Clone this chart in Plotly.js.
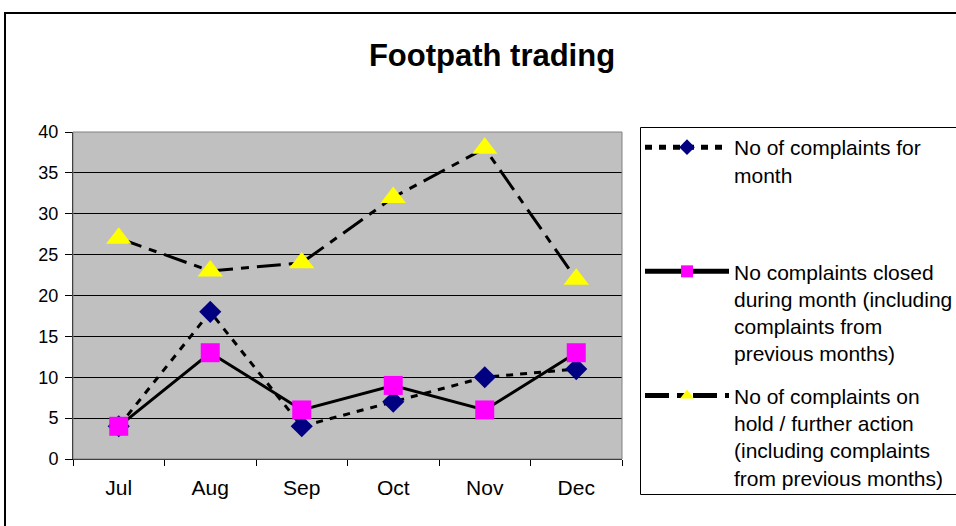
<!DOCTYPE html>
<html>
<head>
<meta charset="utf-8">
<script src="https://cdn.plot.ly/plotly-3.0.1.min.js"></script>
<style>html,body{margin:0;padding:0;background:#fff;overflow:hidden;}#chart{width:956px;height:526px;}</style>
</head>
<body>
<div id="chart"></div>
<script>
const months = ["Jul", "Aug", "Sep", "Oct", "Nov", "Dec"];
const complaintsForMonth = [4, 18, 4, 7, 10, 11];
const complaintsClosed = [4, 13, 6, 9, 6, 13];
const complaintsOnHold = [27, 23, 24, 32, 38, 22];
const seriesNames = [
  "No of complaints for<br>month<br>&nbsp;<br>&nbsp;",
  "No complaints closed<br>during month (including<br>complaints from<br>previous months)",
  "No of complaints on<br>hold / further action<br>(including complaints<br>from previous months)"
];

const traces = [
  {
    x: months, y: complaintsForMonth, name: seriesNames[0], legendgroup: "g1", type: "scatter", mode: "lines+markers",
    line: {color: "#000000", width: 3, dash: "7px,7px"},
    marker: {symbol: "diamond", color: "#000080", size: 17}
  },
  {
    x: months, y: complaintsClosed, name: seriesNames[1], legendgroup: "g2", type: "scatter", mode: "lines+markers",
    line: {color: "#000000", width: 3},
    marker: {symbol: "square", color: "#FF00FF", size: 19}
  },
  {
    x: months, y: complaintsOnHold, name: seriesNames[2], legendgroup: "g3", type: "scatter", mode: "lines+markers",
    line: {color: "#000000", width: 3, dash: "24px,8px,8px,8px"},
    marker: {symbol: "triangle-up", color: "#FFFF00", size: 22}
  }
];

const W = 956, H = 526, L = 73, R = 622, T = 132, B = 459;
const pw = R - L, ph = B - T;
function px(x) { return (x - L) / pw; }
function py(y) { return (B - y) / ph; }

const layout = {
  width: W, height: H,
  margin: {l: L, r: W - R, t: T, b: H - B, pad: 0},
  paper_bgcolor: "#ffffff",
  plot_bgcolor: "#C0C0C0",
  font: {family: "Arial, 'Liberation Sans', sans-serif", color: "#000000", size: 19},
  title: {
    text: "<b>Footpath trading</b>",
    font: {family: "Arial, 'Liberation Sans', sans-serif", size: 31, color: "#000000"},
    x: 492 / W, xanchor: "center", xref: "container",
    y: 1 - 55 / H, yanchor: "middle", yref: "container"
  },
  xaxis: {
    type: "category",
    tickson: "boundaries",
    ticks: "outside", ticklen: 6, tickcolor: "#000000", tickwidth: 1,
    showline: true, linecolor: "#000000", linewidth: 1,
    showgrid: false, zeroline: false,
    tickfont: {size: 21},
    ticklabelstandoff: 10,
    range: [-0.5, 5.5]
  },
  yaxis: {
    range: [0, 40], dtick: 5, tick0: 0,
    ticks: "outside", ticklen: 7, tickcolor: "#000000", tickwidth: 1,
    showline: true, linecolor: "#000000", linewidth: 1,
    showgrid: true, gridcolor: "#000000", gridwidth: 1,
    zeroline: false,
    tickfont: {size: 18},
    ticklabelstandoff: 3,
    fixedrange: true
  },
  showlegend: true,
  legend: {
    xref: "container", yref: "container",
    x: 640 / W, xanchor: "left",
    y: 1 - 127 / H, yanchor: "top",
    bgcolor: "rgba(0,0,0,0)", borderwidth: 0,
    font: {size: 21, color: "#000000"},
    valign: "top",
    itemsizing: "constant",
    itemwidth: 84,
    tracegroupgap: 12,
    maxheight: 600
  },
  shapes: [
    {type: "line", xref: "paper", yref: "paper",
     x0: px(5), x1: px(5), y0: py(13), y1: py(540),
     line: {color: "#000000", width: 2}, layer: "below"},
    {type: "line", xref: "paper", yref: "paper",
     x0: px(4), x1: px(970), y0: py(13), y1: py(13),
     line: {color: "#000000", width: 2}, layer: "below"},
    {type: "rect", xref: "paper", yref: "paper",
     x0: px(640.5), x1: px(970), y0: py(127.5), y1: py(494.5),
     line: {color: "#000000", width: 1}, fillcolor: "#ffffff", layer: "below"},
    {type: "rect", xref: "paper", yref: "paper",
     x0: 0, x1: 1, y0: 0, y1: 1,
     line: {color: "#808080", width: 1}, fillcolor: "rgba(0,0,0,0)", layer: "above"}
  ]
};

Plotly.newPlot("chart", traces, layout, {displayModeBar: false, staticPlot: true});
</script>
</body>
</html>
